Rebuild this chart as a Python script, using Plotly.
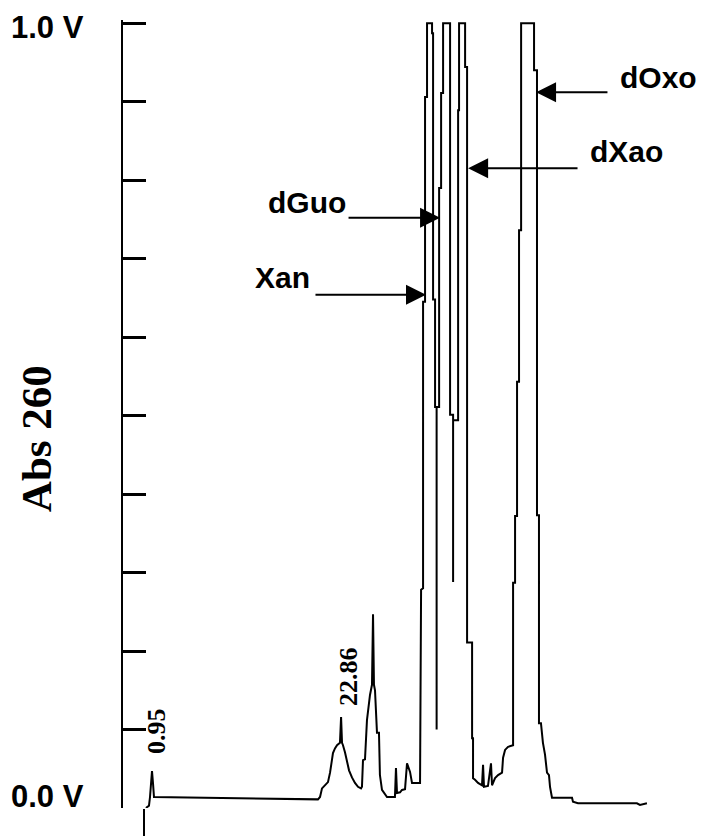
import plotly.graph_objects as go

# Retention time (min) and detector signal (V) (one line per stretch)
time_min = (
    [0.25, 0.60, 0.72, 0.83, 0.95, 1.07, 1.18]
    + [20.18, 20.42, 20.65, 21.00, 21.34, 21.58, 21.81, 21.92, 22.15, 22.39, 22.73, 22.86, 22.97, 23.08,
       23.31, 23.55, 23.78, 24.12, 24.47, 24.82, 25.17, 25.28]
    + [25.40, 25.63, 25.86, 26.21, 26.44, 26.56, 26.67, 26.79, 27.02, 27.25, 27.36, 27.60, 27.95, 28.18]
    + [29.10, 29.22, 29.34, 29.69, 29.92, 30.27, 30.50, 30.73, 30.85, 31.08, 32.01]
    + [32.13, 32.36, 32.36, 32.59, 32.59, 32.82, 32.82, 33.40, 33.40, 33.52, 33.52, 33.75, 33.75, 33.93,
       33.93, 33.93]
    + [34.22, 34.22, 34.45, 34.45, 34.68, 34.68, 35.49, 35.49, 35.84, 35.84, 35.84]
    + [36.42, 36.42, 36.53, 36.53, 37.23, 37.23, 37.46, 37.46, 38.04, 38.04, 38.15, 38.15]
    + [38.38, 38.73, 39.19, 39.31, 39.42, 39.88, 40.23, 40.35, 40.70, 41.05, 41.51, 41.63, 41.86, 42.21,
       42.79]
    + [42.79, 43.02, 43.02, 43.25, 43.25, 43.48, 43.48, 43.72, 43.72, 45.22, 45.22, 45.56, 45.56, 45.79,
       45.79, 46.02]
    + [46.25, 46.49, 46.72, 46.95, 47.07, 47.30, 49.62, 49.73, 50.31, 57.14, 57.49, 58.30]
)
absorbance_v = (
    [0.000, 0.003, 0.014, 0.031, 0.047, 0.031, 0.014]
    + [0.011, 0.014, 0.025, 0.029, 0.033, 0.045, 0.059, 0.070, 0.076, 0.080, 0.083, 0.116, 0.083, 0.080,
       0.071, 0.061, 0.048, 0.039, 0.032, 0.027, 0.025, 0.027]
    + [0.061, 0.062, 0.112, 0.144, 0.157, 0.247, 0.157, 0.150, 0.096, 0.096, 0.042, 0.023, 0.017, 0.014]
    + [0.014, 0.051, 0.019, 0.020, 0.023, 0.024, 0.057, 0.048, 0.046, 0.032, 0.032]
    + [0.278, 0.280, 0.645, 0.645, 0.906, 0.906, 1.000, 1.000, 0.987, 0.987, 0.648, 0.648, 0.511, 0.511,
       0.100, 0.511]
    + [0.511, 0.790, 0.790, 0.911, 0.911, 1.000, 1.000, 0.501, 0.501, 0.288, 0.494]
    + [0.494, 0.889, 0.889, 1.000, 1.000, 0.944, 0.944, 0.211, 0.211, 0.089, 0.089, 0.038]
    + [0.036, 0.032, 0.029, 0.055, 0.027, 0.028, 0.057, 0.029, 0.038, 0.042, 0.045, 0.064, 0.074, 0.078,
       0.080]
    + [0.287, 0.287, 0.372, 0.372, 0.543, 0.543, 0.736, 0.736, 1.000, 1.000, 0.940, 0.940, 0.373, 0.373,
       0.108, 0.108]
    + [0.083, 0.068, 0.045, 0.042, 0.027, 0.013, 0.013, 0.008, 0.006, 0.006, 0.004, 0.006]
)
assert len(time_min) == len(absorbance_v)

# Tick marks on the signal axis
y_ticks = [0.0, 0.1, 0.2, 0.3, 0.4, 0.5, 0.6, 0.7, 0.8, 0.9, 1.0]
y_tick_labels = ["0.0 V", "1.0 V"]

# Peak labels: name, arrow tip (time, V), arrow tail time, label left time, label y
peak_names = ["Xan", "dGuo", "dXao", "dOxo"]
peak_tip_t = [32.70, 34.33, 37.58, 45.45]
peak_tip_v = [0.654, 0.752, 0.815, 0.912]
peak_tail_t = [19.72, 23.55, 50.43, 53.90]
peak_label_t = [12.65, 14.16, 51.47, 54.95]
peak_label_v = [0.676, 0.771, 0.836, 0.931]

# Retention-time labels
rt_labels = ["0.95", "22.86"]
rt_label_t = [1.41, 23.78]
rt_label_v = [0.098, 0.167]

SANS = "Liberation Sans, Arial, Helvetica, sans-serif"
SERIF = "Liberation Serif, Times New Roman, serif"

fig = go.Figure()
fig.add_trace(go.Scatter(x=time_min, y=absorbance_v, mode="lines",
                         line=dict(color="black", width=2), hoverinfo="skip", showlegend=False))

ann = []
for name, tt, tv, at, lt, lv in zip(peak_names, peak_tip_t, peak_tip_v, peak_tail_t, peak_label_t, peak_label_v):
    ann.append(dict(x=tt, y=tv, xref="x", yref="y", ax=at, ay=tv, axref="x", ayref="y",
                    text="", showarrow=True, arrowhead=2, arrowwidth=2, arrowsize=2, arrowcolor="black"))
    ann.append(dict(x=lt, y=lv, xref="x", yref="y", text="<b>%s</b>" % name, showarrow=False,
                    xanchor="left", yanchor="middle", font=dict(family=SANS, size=30, color="black")))

for lab, lt, lv in zip(rt_labels, rt_label_t, rt_label_v):
    ann.append(dict(x=lt, y=lv, xref="x", yref="y", text="<b>%s</b>" % lab, showarrow=False,
                    textangle=-90, xanchor="center", yanchor="middle",
                    font=dict(family=SERIF, size=26, color="black")))

ann.append(dict(x=-0.065, y=0.994, xref="paper", yref="y", text="<b>%s</b>" % y_tick_labels[1],
                showarrow=False, xanchor="right", yanchor="middle",
                font=dict(family=SANS, size=31, color="black")))
ann.append(dict(x=-0.065, y=0.015, xref="paper", yref="y", text="<b>%s</b>" % y_tick_labels[0],
                showarrow=False, xanchor="right", yanchor="middle",
                font=dict(family=SANS, size=31, color="black")))
ann.append(dict(x=-0.152, y=0.471, xref="paper", yref="y", text="<b>Abs 260</b>",
                showarrow=False, textangle=-90, xanchor="center", yanchor="middle",
                font=dict(family=SERIF, size=43, color="black")))

fig.update_layout(
    template="none",
    width=704, height=836,
    margin=dict(l=123, r=14, t=20, b=28, autoexpand=False),
    paper_bgcolor="white", plot_bgcolor="white",
    annotations=ann,
    xaxis=dict(range=[-2.41, 63.29], showline=False, showgrid=False, zeroline=False, automargin=False,
               ticks="outside", tickvals=[0], ticklen=28, tickwidth=2, tickcolor="black",
               showticklabels=False),
    yaxis=dict(range=[0, 1.004], showline=True, linecolor="black", linewidth=2, automargin=False,
               showgrid=False, zeroline=False, ticks="inside", tickvals=y_ticks,
               ticklen=23, tickwidth=3, tickcolor="black", showticklabels=False),
)

fig.write_html("out.html", config={"displayModeBar": False},
               post_script="document.body.style.margin='0';document.body.style.overflow='hidden';")
